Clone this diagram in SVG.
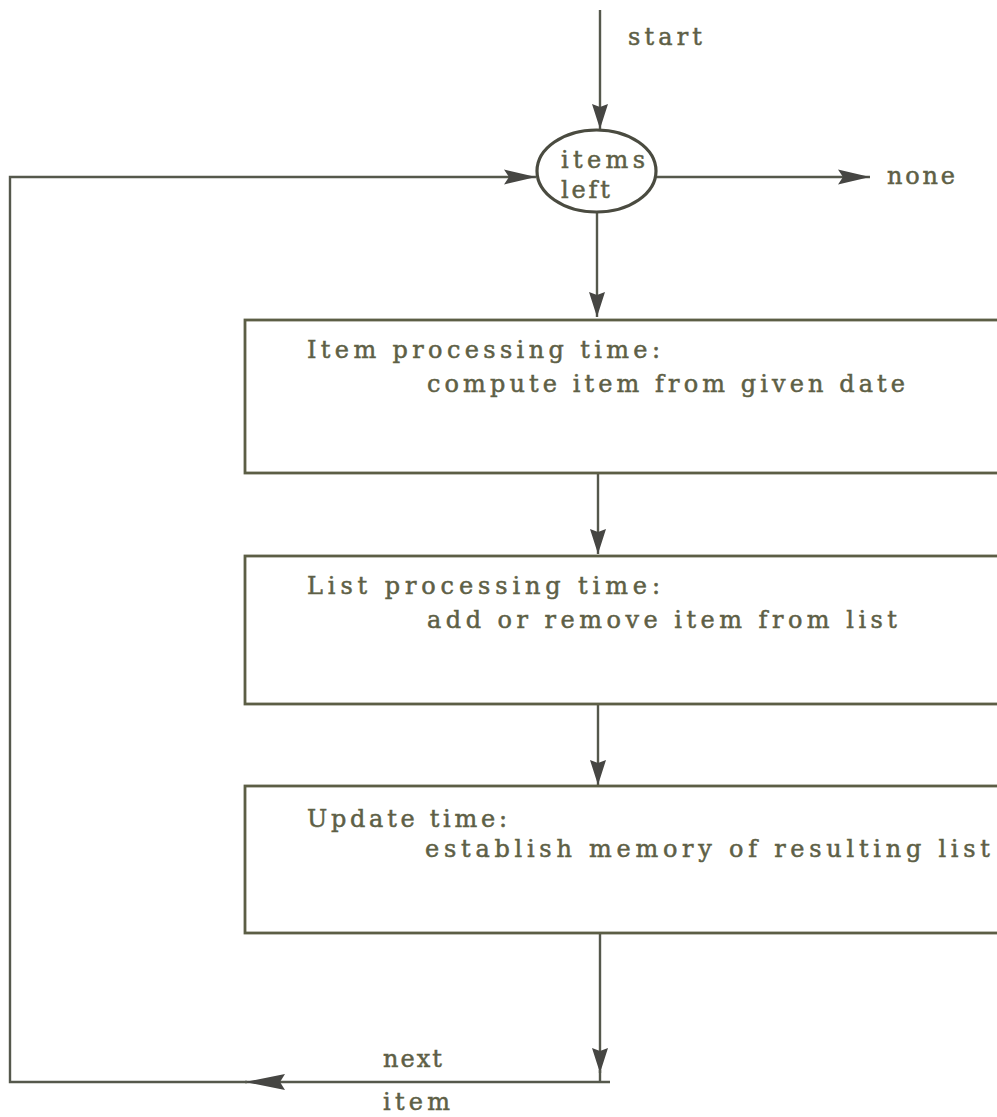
<svg xmlns="http://www.w3.org/2000/svg" width="997" height="1117" viewBox="0 0 997 1117">
<style>
.bg{fill:#ffffff}
.box{fill:none;stroke:#5c5e45;stroke-width:2.8}
.oval{fill:none;stroke:#4a4b40;stroke-width:3.2}
.ln{fill:none;stroke:#55584c;stroke-width:2.4}
.t{font-family:"DejaVu Serif","Liberation Serif",serif;font-size:24px;fill:#5e5f46;stroke:#5e5f46;stroke-width:0.5}
</style>
<defs>
<marker id="ah" markerUnits="userSpaceOnUse" markerWidth="34" markerHeight="18" refX="32" refY="8.5" orient="auto">
<path d="M0,1 L32,8.5 L0,16 L5,8.5 z" fill="#464643"/>
</marker>
<marker id="av" markerUnits="userSpaceOnUse" markerWidth="28" markerHeight="18" refX="25" refY="8.5" orient="auto">
<path d="M0,0.5 L25,8.5 L0,16.5 L3,8.5 z" fill="#464643"/>
</marker>
<marker id="ab" markerUnits="userSpaceOnUse" markerWidth="42" markerHeight="20" refX="40" refY="9" orient="auto">
<path d="M0,1 L40,9 L0,17 L5,9 z" fill="#464643"/>
</marker>
</defs>
<rect class="bg" x="0" y="0" width="997" height="1117"/>
<g id="connectors">
<path class="ln" d="M600,10 L600,129" marker-end="url(#av)"/>
<path class="ln" d="M597,212 L597,317" marker-end="url(#av)"/>
<path class="ln" d="M598,473 L598,554" marker-end="url(#av)"/>
<path class="ln" d="M598,704 L598,785" marker-end="url(#av)"/>
<path class="ln" d="M600,933 L600,1073" marker-end="url(#av)"/>
<path class="ln" d="M600,1070 L600,1082"/>
<path class="ln" d="M656,177 L870,177" marker-end="url(#ah)"/>
<path class="ln" d="M610,1082 L245,1082" marker-end="url(#ab)"/>
<path class="ln" d="M247,1082 L10,1082 L10,177 L536,177" marker-end="url(#ah)"/>
</g>
<g id="start-label"><text class="t" x="628" y="45" textLength="74" lengthAdjust="spacing">start</text></g>
<g id="none-label"><text class="t" x="887" y="184" textLength="68" lengthAdjust="spacing">none</text></g>
<g id="decision">
<ellipse class="oval" cx="596.5" cy="171" rx="59.5" ry="41"/>
<text class="t" x="561" y="168" textLength="84" lengthAdjust="spacing">items</text>
<text class="t" x="561" y="198" textLength="49" lengthAdjust="spacing">left</text>
</g>
<g id="item-processing">
<rect class="box" x="245" y="320" width="770" height="153"/>
<text class="t" x="307" y="358" textLength="353" lengthAdjust="spacing">Item processing time:</text>
<text class="t" x="427" y="392" textLength="478" lengthAdjust="spacing">compute item from given date</text>
</g>
<g id="list-processing">
<rect class="box" x="245" y="556" width="770" height="148"/>
<text class="t" x="307" y="594" textLength="353" lengthAdjust="spacing">List processing time:</text>
<text class="t" x="427" y="628" textLength="470" lengthAdjust="spacing">add or remove item from list</text>
</g>
<g id="update">
<rect class="box" x="245" y="786" width="770" height="147"/>
<text class="t" x="307" y="827" textLength="200" lengthAdjust="spacing">Update time:</text>
<text class="t" x="425" y="857" textLength="565" lengthAdjust="spacing">establish memory of resulting list</text>
</g>
<g id="next-label">
<text class="t" x="383" y="1067" textLength="59" lengthAdjust="spacing">next</text>
<text class="t" x="383" y="1110" textLength="67" lengthAdjust="spacing">item</text>
</g>
</svg>
